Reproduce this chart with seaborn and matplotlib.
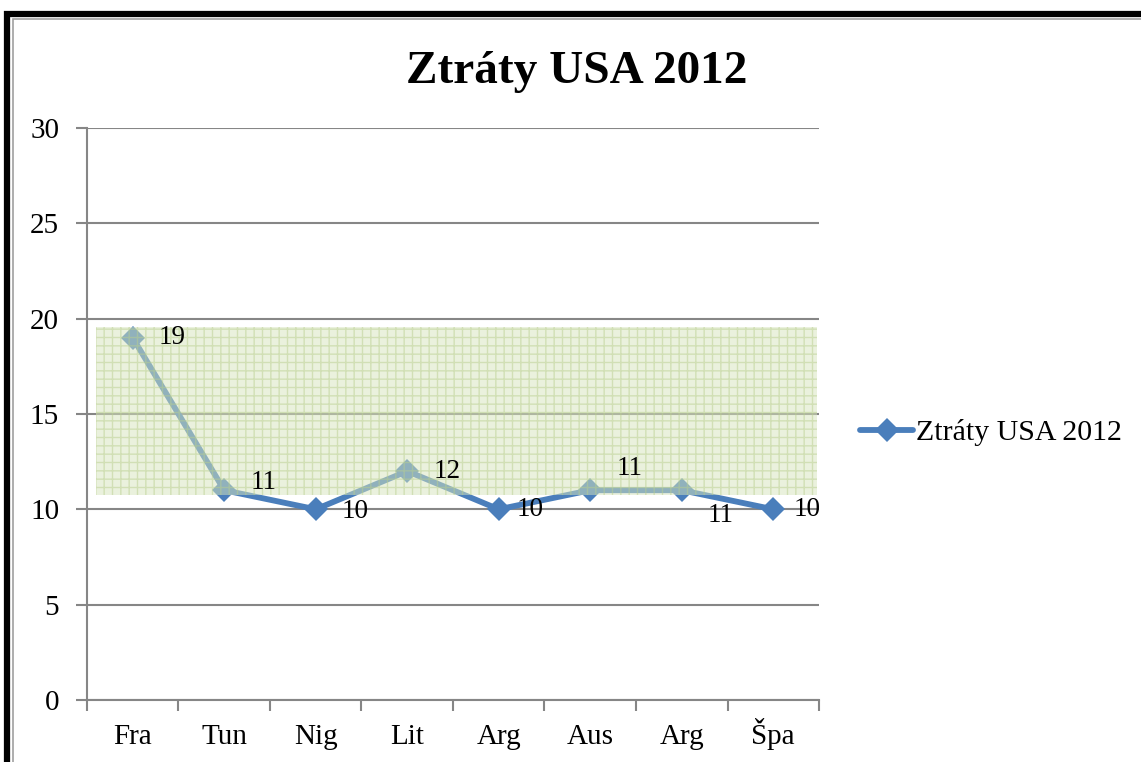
import numpy as np
import pandas as pd
import matplotlib
matplotlib.use("Agg")
import matplotlib.pyplot as plt
from matplotlib.patches import Rectangle
import seaborn as sns

# data
countries = ["Fra", "Tun", "Nig", "Lit", "Arg", "Aus", "Arg", "Špa"]
losses = [19, 11, 10, 12, 10, 11, 11, 10]
series_name = "Ztráty USA 2012"

# where each data label sits relative to its point (pixels)
label_offsets = [(26, 0), (26, 8), (26, -2), (26, 0), (18, 0), (26, 22), (26, -25), (20, 0)]

df = pd.DataFrame({"pos": np.arange(len(countries)), "losses": losses})

sns.set_theme(style="white")
plt.rcParams["font.family"] = ["Liberation Serif", "DejaVu Serif"]
plt.rcParams["text.color"] = "black"
plt.rcParams["xtick.color"] = "black"
plt.rcParams["ytick.color"] = "black"
plt.rcParams["hatch.linewidth"] = 1.0

fig = plt.figure(figsize=(11.41, 7.62), dpi=100)
ax = fig.add_axes([0.0762, 0.0814, 0.6416, 0.7507])

blue = "#4a7ebb"
sns.lineplot(data=df, x="pos", y="losses", ax=ax, color=blue, linewidth=4.2,
             marker="D", markersize=12.5, markeredgewidth=0, label=series_name,
             zorder=3)

# data labels
for i, (v, off) in enumerate(zip(losses, label_offsets)):
    ax.annotate(str(v), (i, v), xytext=(off[0] * 0.72, off[1] * 0.72),
                textcoords="offset points", ha="left", va="center",
                fontsize=19.5, color="black", zorder=5)

# green hatched overlay like the pasted picture in the original
ax.add_patch(Rectangle((-0.40, 10.75), 7.88, 8.81, facecolor="#d7e4bd",
                       edgecolor="#b9cf8e", hatch="++", linewidth=0,
                       alpha=0.5, zorder=4, clip_on=False))

ax.set_xlim(-0.5, len(countries) - 0.5)
ax.set_ylim(0, 30)
ax.set_yticks(range(0, 31, 5))
ax.yaxis.grid(True, color="#868686", linewidth=1.5)
ax.set_axisbelow(True)

# ticks between categories, labels centred
ax.set_xticks(np.arange(-0.5, len(countries), 1.0))
ax.set_xticklabels([])
ax.set_xticks(np.arange(len(countries)), minor=True)
ax.set_xticklabels(countries, minor=True, fontsize=21)
for lab in ax.get_xticklabels(minor=True):
    lab.set_va("baseline")
ax.tick_params(axis="x", which="major", length=8, width=1.5, color="#868686",
               direction="out", bottom=True)
ax.tick_params(axis="x", which="minor", length=0, pad=32)
ax.tick_params(axis="y", length=8, width=1.5, color="#868686", direction="out",
               left=True, labelsize=21, pad=12, labelcolor="black")

for s in ["top", "right"]:
    ax.spines[s].set_visible(False)
for s in ["left", "bottom"]:
    ax.spines[s].set_color("#868686")
    ax.spines[s].set_linewidth(1.5)

ax.set_xlabel("")
ax.set_ylabel("")

leg = ax.legend(loc="center left", bbox_to_anchor=(0.741, 0.432),
                bbox_transform=fig.transFigure, frameon=False, fontsize=21.5,
                handlelength=1.75, handletextpad=0.1, borderpad=0,
                numpoints=1)

fig.text(0.505, 0.905, "Ztráty USA 2012", ha="center", va="center",
         fontsize=34, fontweight="bold", color="black")

# frame of the pasted chart (left and top edges)
fig.patches.append(Rectangle((0.0057, -0.1), 1.2, 1.081, transform=fig.transFigure,
                             fill=False, edgecolor="black", linewidth=4.5))
fig.patches.append(Rectangle((0.0118, -0.1), 1.2, 1.0745, transform=fig.transFigure,
                             fill=False, edgecolor="#a0a0a0", linewidth=1.2))

fig.savefig("out.png", dpi=100)
